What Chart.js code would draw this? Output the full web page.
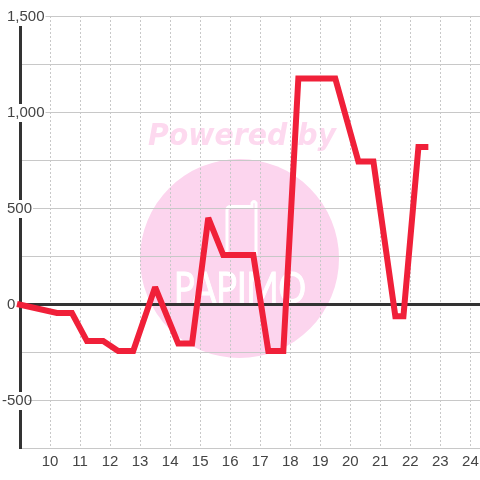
<!DOCTYPE html>
<html>
<head>
<meta charset="utf-8">
<title>Chart</title>
<script src="https://cdn.jsdelivr.net/npm/chart.js@4/dist/chart.umd.min.js"></script>
<style>
  html, body { margin: 0; padding: 0; background: #fff; }
  canvas { display: block; }
</style>
</head>
<body>
<canvas id="chart-main" width="480" height="480"></canvas>
<script>
const hours = [8.9, 10.23, 10.73, 11.23, 11.77, 12.27, 12.77, 13.5, 14.27, 14.73, 15.27, 15.77, 16.77, 17.27, 17.77, 18.27, 19.5, 20.27, 20.77, 21.5, 21.77, 22.27, 22.6];
const values = [0, -47, -47, -193, -193, -245, -245, 88, -206, -206, 448, 255, 255, -245, -245, 1175, 1175, 742, 742, -64, -64, 818, 818];
const xTickValues = [10, 11, 12, 13, 14, 15, 16, 17, 18, 19, 20, 21, 22, 23, 24];
const xTickLabels = ['10', '11', '12', '13', '14', '15', '16', '17', '18', '19', '20', '21', '22', '23', '24'];
const yTickValues = [-500, 0, 500, 1000, 1500];
const yTickLabels = ['-500', '0', '500', '1,000', '1,500'];

const LINE_COLOR = '#f02039';
const AXIS_COLOR = '#333333';
const GRID_COLOR = '#c8c8c8';
const TEXT_COLOR = '#444444';
const PINK = '#fcd5ee';

// Faint logo behind the grid
const watermark = {
  id: 'watermark',
  beforeDraw(chart) {
    const ctx = chart.ctx;
    ctx.save();
    ctx.fillStyle = PINK;
    ctx.beginPath();
    ctx.arc(239.5, 258.5, 99.5, 0, Math.PI * 2);
    ctx.fill();

    ctx.font = 'italic bold 31px "DejaVu Sans"';
    ctx.fillStyle = '#fdd9ef';
    ctx.textAlign = 'left';
    ctx.textBaseline = 'alphabetic';
    ctx.fillText('Powered by', 148, 144.5, 188);

    ctx.strokeStyle = '#ffffff';
    ctx.lineWidth = 3;
    ctx.beginPath();
    ctx.moveTo(227, 256);
    ctx.lineTo(227, 210);
    ctx.quadraticCurveTo(227, 206.5, 231, 206.5);
    ctx.lineTo(252, 206.5);
    ctx.lineTo(252, 203);
    ctx.quadraticCurveTo(254, 200, 256, 203);
    ctx.lineTo(256, 256);
    ctx.stroke();

    ctx.font = '42px Lato';
    ctx.fillStyle = '#ffffff';
    ctx.textAlign = 'center';
    ctx.lineWidth = 1;
    ctx.fillText('PAPIMO', 240, 303, 132);
    ctx.strokeText('PAPIMO', 240, 303, 132);
    ctx.restore();

    // the minus sign of negative labels hangs left of the digits
    const y = chart.scales.y;
    y.getLabelItems(chart.chartArea).forEach(item => {
      if (String(item.label).startsWith('-') && !item.shifted) {
        item.options.translation[0] -= 5;
        item.options.backdrop.left -= 5;
        item.shifted = true;
      }
    });
  },
  beforeDatasetDraw(chart) {
    chart.ctx.miterLimit = 2;
  },
  afterDatasetDraw(chart) {
    chart.ctx.miterLimit = 10;
  }
};

const ctx = document.getElementById('chart-main').getContext('2d');
new Chart(ctx, {
  type: 'line',
  data: {
    datasets: [{
      data: hours.map((h, i) => ({ x: h, y: values[i] })),
      borderColor: LINE_COLOR,
      borderWidth: 6,
      borderJoinStyle: 'miter',
      borderCapStyle: 'butt',
      tension: 0,
      pointRadius: 0,
      clip: false
    }]
  },
  options: {
    responsive: false,
    animation: false,
    layout: { padding: { left: 0, top: 16, right: 0, bottom: 0 } },
    plugins: {
      legend: { display: false },
      tooltip: { enabled: false }
    },
    scales: {
      x: {
        type: 'linear',
        min: 9,
        max: 24.32,
        afterFit: scale => {
          scale.height = 32;
          scale.paddingLeft = 0;
          scale.paddingRight = 0;
        },
        afterBuildTicks: scale => {
          scale.ticks = xTickValues.map(value => ({ value }));
        },
        ticks: {
          autoSkip: false,
          maxRotation: 0,
          padding: 5,
          color: TEXT_COLOR,
          font: { family: '"Liberation Sans"', size: 15 },
          callback: value => xTickLabels[xTickValues.indexOf(value)]
        },
        grid: {
          color: GRID_COLOR,
          lineWidth: 1,
          drawTicks: false
        },
        border: { display: false, dash: [2, 2] }
      },
      y: {
        min: -750,
        max: 1500,
        afterFit: scale => { scale.width = 20; },
        ticks: {
          stepSize: 250,
          autoSkip: false,
          mirror: true,
          crossAlign: 'near',
          padding: -13,
          labelOffset: 1,
          color: TEXT_COLOR,
          font: { family: '"Liberation Sans"', size: 15 },
          showLabelBackdrop: true,
          backdropColor: '#ffffff',
          backdropPadding: { left: 1, right: 1, top: 0, bottom: 0 },
          callback: value => {
            const i = yTickValues.indexOf(value);
            return i < 0 ? '' : yTickLabels[i];
          }
        },
        grid: {
          color: c => (c.tick && c.tick.value === 0 ? AXIS_COLOR : GRID_COLOR),
          lineWidth: c => (c.tick && c.tick.value === 0 ? 3 : 1),
          drawTicks: false
        },
        border: { display: true, color: AXIS_COLOR, width: 3 }
      }
    }
  },
  plugins: [watermark]
});
</script>
</body>
</html>
